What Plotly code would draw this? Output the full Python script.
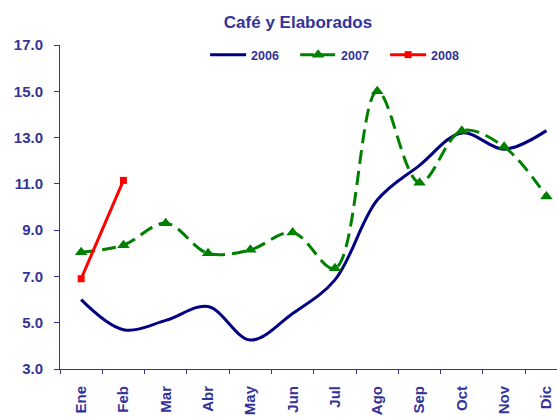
import plotly.graph_objects as go

months = ["Ene", "Feb", "Mar", "Abr", "May", "Jun", "Jul", "Ago", "Sep", "Oct", "Nov", "Dic"]
v2006 = [6.0, 4.7, 5.1, 5.7, 4.25, 5.4, 6.85, 10.3, 11.8, 13.2, 12.5, 13.3]
v2007 = [8.05, 8.35, 9.3, 8.0, 8.15, 8.9, 7.35, 15.0, 11.05, 13.3, 12.6, 10.45]
v2008 = [6.9, 11.15]
months2008 = months[:2]
yticks = [3.0, 5.0, 7.0, 9.0, 11.0, 13.0, 15.0, 17.0]

TXT = "#333399"
FONT = "Liberation Sans, Arial, sans-serif"

fig = go.Figure()
fig.add_trace(go.Scatter(x=months, y=v2006, name="<b>2006</b>", mode="lines",
                         line=dict(color="#000080", width=3, shape="spline", smoothing=1)))
fig.add_trace(go.Scatter(x=months, y=v2007, name="<b>2007</b>", mode="lines+markers",
                         line=dict(color="#008000", width=3, shape="spline", smoothing=1, dash="14px,7px"),
                         marker=dict(symbol="triangle-up", size=11, color="#008000")))
fig.add_trace(go.Scatter(x=months2008, y=v2008, name="<b>2008</b>", mode="lines+markers",
                         line=dict(color="#FF0000", width=3),
                         marker=dict(symbol="square", size=7, color="#FF0000")))

fig.update_layout(
    width=557, height=420,
    margin=dict(l=60, r=0, t=45, b=51),
    paper_bgcolor="white", plot_bgcolor="white",
    font=dict(family=FONT, color=TXT),
    title=dict(text="<b>Café y Elaborados</b>", x=298 / 557, xref="container", xanchor="center",
               y=1 - 22.5 / 420, yanchor="middle",
               font=dict(size=17, color=TXT, family=FONT)),
    legend=dict(orientation="h", x=0.292, y=0.969, xanchor="left", yanchor="middle",
                font=dict(size=12.5, color=TXT, family=FONT), bgcolor="rgba(0,0,0,0)",
                itemwidth=36, entrywidth=39, entrywidthmode="pixels", tracegroupgap=0),
    showlegend=True,
)
fig.update_xaxes(type="category", categoryorder="array", categoryarray=months,
                 range=[-0.5, 11.25], tickson="boundaries", ticks="outside", ticklen=4,
                 tickcolor=TXT, showline=True, linecolor=TXT, linewidth=1,
                 showgrid=False, zeroline=False, tickangle=-90, ticklabelstandoff=10,
                 tickvals=months, ticktext=["<b>%s</b>" % m for m in months],
                 tickfont=dict(size=15, color=TXT, family=FONT), automargin=False)
fig.update_yaxes(range=[3, 17], tickvals=yticks, ticktext=["<b>%.1f</b>" % v for v in yticks],
                 ticks="outside", ticklen=5, tickcolor=TXT, showline=True, linecolor=TXT, linewidth=1,
                 showgrid=False, zeroline=False, ticklabelstandoff=8,
                 tickfont=dict(size=15, color=TXT, family=FONT), automargin=False)

fig.write_html("out.html", config={"displayModeBar": False},
               post_script="document.body.style.margin='0';document.body.style.overflow='hidden';")
